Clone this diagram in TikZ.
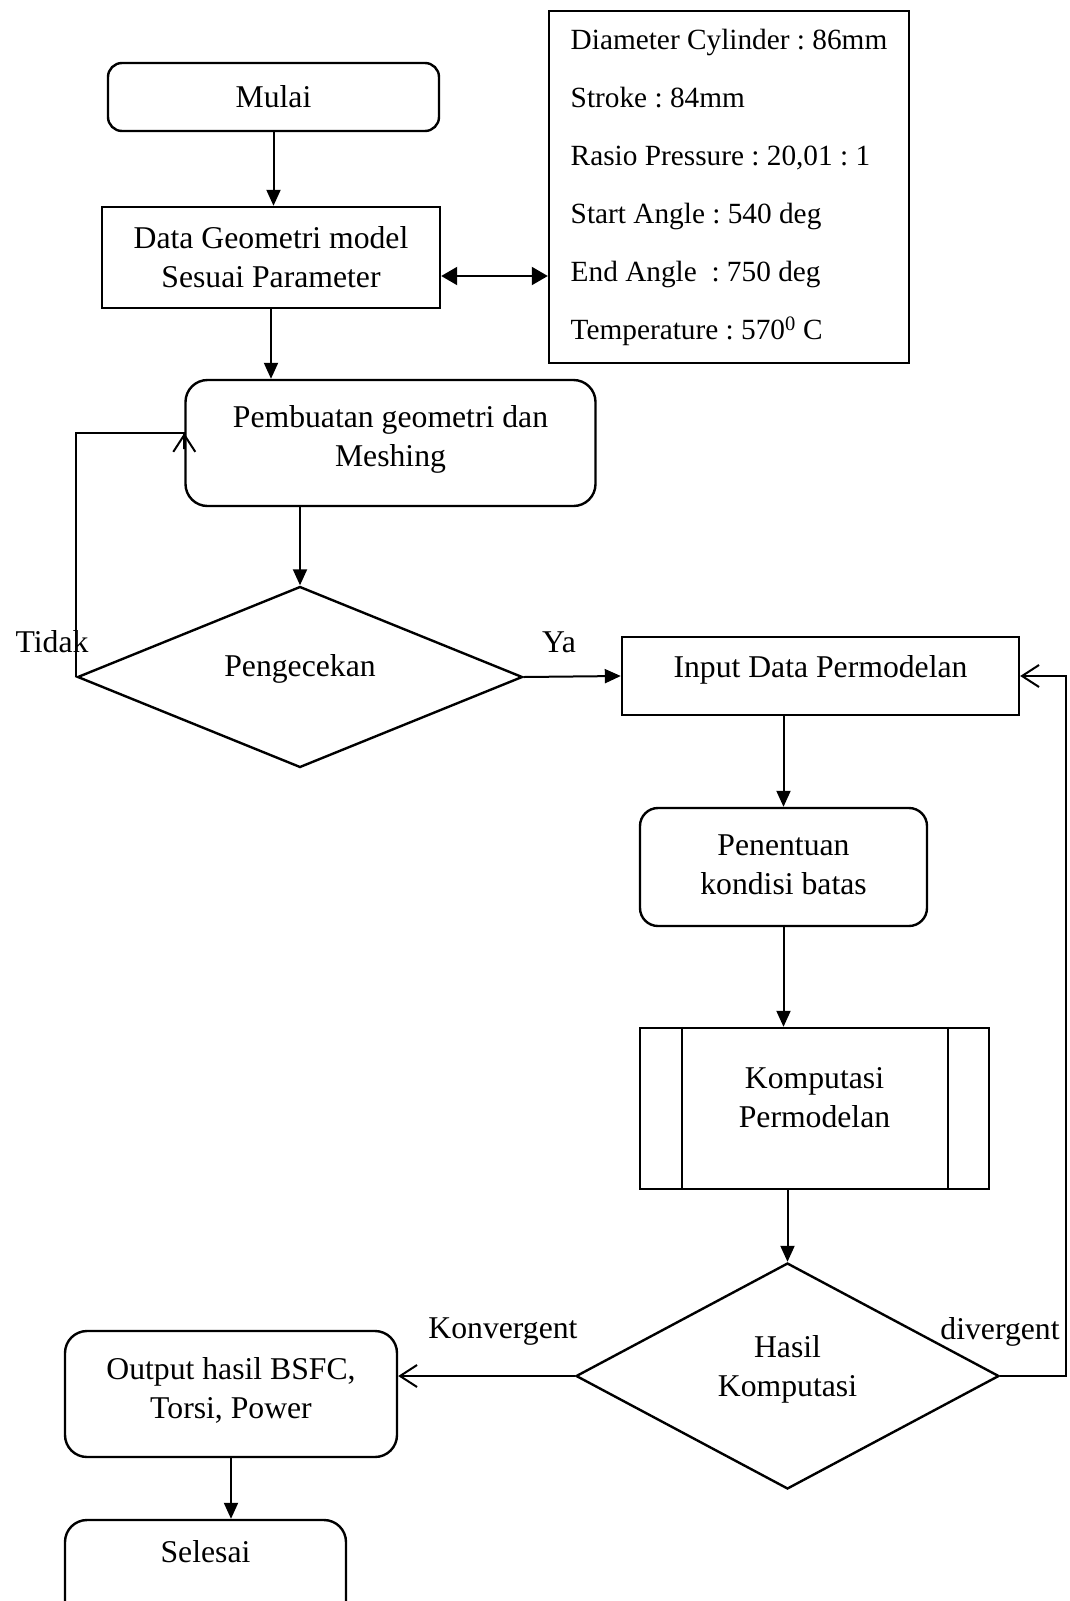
\documentclass[tikz,border=0pt]{standalone}
\usepackage{fontspec}
\setmainfont{Liberation Serif}
\usetikzlibrary{shapes.geometric, arrows.meta}

\begin{document}
\frenchspacing
\begin{tikzpicture}[x=1pt, y=-1pt, font=\fontsize{31.7}{39}\selectfont,
    box/.style = {draw, line width=2.4pt, align=center, inner sep=0pt},
    rbox/.style = {box, rounded corners=18pt},
    dec/.style = {draw, diamond, aspect=2.4, line width=2.4pt, align=center, inner sep=0pt},
    arr/.style = {line width=2pt, -{Triangle[length=16pt, width=14pt]}},
    back/.style = {line width=2pt, -{Straight Barb[length=17pt, width=22pt]}}]
        \useasboundingbox (0,0) rectangle (1069,1601);
        \clip (0,0) rectangle (1069,1601);
        \node[rbox, rounded corners=14pt, minimum width=331pt, minimum height=68pt] (mulai) at (273.5,97) {Mulai};
        \node[box, minimum width=338pt, minimum height=101pt] (data) at (271,257.5) {Data Geometri model\\Sesuai Parameter};
        \node[box, minimum width=360pt, minimum height=352pt, align=left, font=\fontsize{29.3}{58}\selectfont] (param) at (729,187) {Diameter Cylinder : 86mm\\Stroke : 84mm\\Rasio Pressure : 20,01 : 1\\Start Angle : 540 deg\\End Angle~ : 750 deg\\Temperature : 570\textsuperscript{0} C};
        \node[rbox, rounded corners=22pt, minimum width=410pt, minimum height=126pt, text depth=15pt] (buat) at (390.5,443) {Pembuatan geometri dan\\Meshing};
        \node[dec, minimum width=445pt, minimum height=181pt, text depth=23pt] (cek) at (300,677) {Pengecekan};
        \node[box, minimum width=397pt, minimum height=78pt, text depth=19pt] (input) at (820.5,676) {Input Data Permodelan};
        \node[rbox, minimum width=287pt, minimum height=118pt, text depth=5pt] (batas) at (783.5,867) {Penentuan\\kondisi batas};
        \node[box, minimum width=349pt, minimum height=161pt, text depth=22pt] (komp) at (814.5,1108.5) {Komputasi\\Permodelan};
        \node[dec, minimum width=423pt, minimum height=226pt, text depth=21pt] (hasil) at (787.5,1376) {Hasil\\Komputasi};
        \node[rbox, rounded corners=22pt, minimum width=332pt, minimum height=126pt, text depth=12.5pt] (output) at (231,1394) {Output hasil BSFC,\\Torsi, Power};
        \node[rbox, rounded corners=22pt, minimum width=281pt, minimum height=130pt] (selesai) at (205.5,1585) {};
        \node (selesaitxt) at (205.5,1552) {Selesai};
        % sisi kotak komputasi
        \draw[line width=2.4pt] ([xshift=43pt]komp.north west) -- ([xshift=43pt]komp.south west);
        \draw[line width=2.4pt] ([xshift=-42pt]komp.north east) -- ([xshift=-42pt]komp.south east);
        % label cabang
        \node (tidak) at (52,642) {Tidak};
        \node (ya) at (559,642) {Ya};
        \node (konv) at (503,1332) {Konvergent};
        \node (div) at (1000,1332) {divergent};
        \coordinate (ret) at ([yshift=10pt]buat.west);
        \draw[arr] (mulai.south) -- (mulai.south |- data.north);
        \draw[line width=2pt, {Triangle[length=16pt, width=18pt]}-{Triangle[length=16pt, width=18pt]}] ([yshift=-18.5pt]data.east) -- ([yshift=-18.5pt]data.east -| param.west);
        \draw[arr] (data.south) -- (data.south |- buat.north);
        \draw[arr] (buat.south -| cek.north) -- (cek.north);
        \draw[back] (cek.west) |- (ret) -- ([yshift=-16pt]ret) -- (ret);
        \draw[arr] (cek.east) -- (input.west);
        \draw[arr] (input.south -| batas.north) -- (batas.north);
        \draw[arr] (batas.south) -- (batas.south |- komp.north);
        \draw[arr] (komp.south -| hasil.north) -- (hasil.north);
        \draw[back] (hasil.east) -- ++(66,0) |- (input.east);
        \draw[back] (hasil.west) -- (hasil.west -| output.east);
        \draw[arr] (output.south) -- (output.south |- selesai.north);
    \end{tikzpicture}
\end{document}
